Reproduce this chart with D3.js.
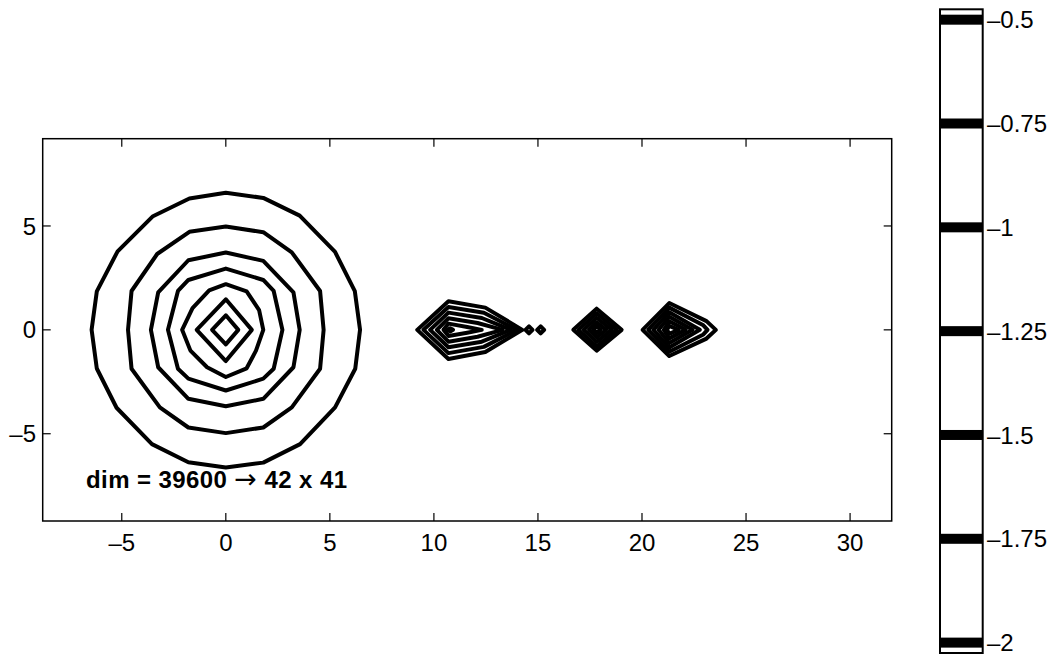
<!DOCTYPE html>
<html>
<head>
<meta charset="utf-8">
<script src="https://d3js.org/d3.v7.min.js"></script>
<style>
body { margin: 0; background: #fff; }
text { font-family: "Liberation Sans", Arial, sans-serif; fill: #000; }
</style>
</head>
<body>
<svg width="1056" height="655"></svg>
<script>
var svg = d3.select("svg");

// axis ticks and labels
var xTicks = [-5, 0, 5, 10, 15, 20, 25, 30];
var xTickLabels = ["\u20135", "0", "5", "10", "15", "20", "25", "30"];
var yTicks = [-5, 0, 5];
var yTickLabels = ["\u20135", "0", "5"];
var levels = [-0.5, -0.75, -1, -1.25, -1.5, -1.75, -2];
var levelLabels = ["\u20130.5", "\u20130.75", "\u20131", "\u20131.25", "\u20131.5", "\u20131.75", "\u20132"];
var note = ["dim = 39600 ", "\u2192", " 42 x 41"];

// contour lines (x, y in data units)
var ringContours = [
  [[0,6.6],[1.8,6.35],[3.55,5.5],[5.25,3.75],[6.2,1.86],[6.45,0],[6.22,-1.87],[5.25,-3.73],[3.57,-5.5],[1.8,-6.39],
   [0,-6.63],[-1.8,-6.37],[-3.55,-5.5],[-5.25,-3.75],[-6.2,-1.86],[-6.45,0],[-6.2,1.85],[-5.2,3.78],[-3.5,5.47],[-1.75,6.32]],
  [[0,4.97],[1.8,4.7],[3.17,3.73],[4.53,1.87],[4.7,0],[4.53,-1.87],[3.17,-3.73],[1.8,-4.7],
   [0,-4.97],[-1.8,-4.7],[-3.17,-3.73],[-4.53,-1.87],[-4.7,0],[-4.53,1.87],[-3.3,3.65],[-1.75,4.72]],
  [[0,3.72],[1.8,3.32],[3.25,1.8],[3.55,0],[3.25,-1.8],[1.8,-3.32],[0,-3.68],[-1.8,-3.32],[-3.25,-1.8],[-3.6,0],[-3.25,1.8],[-1.8,3.35]],
  [[0,2.95],[1.8,2.4],[2.3,1.87],[2.72,0],[2.3,-1.87],[1.8,-2.35],[0,-2.92],[-1.8,-2.35],[-2.3,-1.87],[-2.78,0],[-2.3,1.87],[-1.8,2.4]],
  [[0,2.2],[1.0,1.85],[1.6,0.95],[1.8,0],[1.45,-1.0],[1.0,-1.85],[0,-2.27],[-0.9,-1.8],[-1.7,-1.0],[-2.1,0],[-1.6,1.05],[-0.8,1.9]],
  [[0,1.47],[1.25,0],[0,-1.5],[-1.4,0]],
  [[0,0.7],[0.6,0],[0,-0.7],[-0.66,0]]
];

var kiteContours = [
  [[9.2,0],[10.7,1.38],[12.47,1.07],[14.25,0],[12.47,-1.07],[10.7,-1.4]],
  [[9.5,0],[10.7,1.1],[12.4,0.82],[14.0,0],[12.4,-0.82],[10.7,-1.12]],
  [[9.82,0],[10.7,0.83],[12.3,0.57],[13.7,0],[12.3,-0.57],[10.7,-0.84]],
  [[10.14,0],[10.7,0.56],[12.1,0.33],[13.3,0],[12.1,-0.33],[10.7,-0.57]],
  [[10.46,0],[10.7,0.3],[11.6,0.14],[12.3,0],[11.6,-0.14],[10.7,-0.3]],
  [[10.65,0],[10.78,0.08],[10.92,0],[10.78,-0.08]],
  [[14.4,0],[14.57,0.17],[14.74,0],[14.57,-0.17]],
  [[14.96,0],[15.13,0.17],[15.3,0],[15.13,-0.17]]
];

var diamondContours = [
  [[16.7,0],[17.82,1.02],[19.02,0],[17.82,-1.0]],
  [[16.95,0],[17.82,0.8],[18.78,0],[17.82,-0.8]],
  [[17.2,0],[17.82,0.58],[18.54,0],[17.82,-0.58]],
  [[17.45,0],[17.82,0.36],[18.28,0],[17.82,-0.36]],
  [[17.66,0],[17.82,0.16],[18.02,0],[17.82,-0.16]]
];

var wedgeContours = [
  [[20.03,0],[21.31,1.29],[23.1,0.42],[23.55,0],[23.1,-0.42],[21.31,-1.26]],
  [[20.3,0],[21.31,1.07],[22.95,0.22],[23.15,0],[22.95,-0.22],[21.31,-1.05]],
  [[20.55,0],[21.31,0.85],[22.78,0],[21.31,-0.85]],
  [[20.8,0],[21.31,0.63],[22.43,0],[21.31,-0.63]],
  [[21.05,0],[21.31,0.41],[22.1,0],[21.31,-0.41]],
  [[21.2,0],[21.31,0.19],[21.76,0],[21.31,-0.19]]
];

var plot = {left: 42.7, right: 891.7, top: 138.7, bottom: 521};

var x = d3.scaleLinear().domain([-8.8, 32]).range([plot.left, plot.right]);
var y = d3.scaleLinear().domain([-9.2, 9.2]).range([plot.bottom, plot.top]);
var c = d3.scaleLinear().domain([-2.025, -0.475]).range([653, 9.3]);

var line = d3.line()
    .x(function(d) { return x(d[0]); })
    .y(function(d) { return y(d[1]); })
    .curve(d3.curveLinearClosed);

var g = svg.append("g");

g.selectAll("path.contour")
  .data(ringContours.concat(kiteContours, diamondContours, wedgeContours))
  .enter().append("path")
    .attr("class", "contour")
    .attr("d", line)
    .attr("fill", "none")
    .attr("stroke", "#000")
    .attr("stroke-width", 4)
    .attr("stroke-linejoin", "round");

// box and ticks
svg.append("rect")
    .attr("x", plot.left).attr("y", plot.top)
    .attr("width", plot.right - plot.left).attr("height", plot.bottom - plot.top)
    .attr("fill", "none").attr("stroke", "#000").attr("stroke-width", 1.5);

var tickLen = 8;
var ticks = svg.append("g").attr("stroke", "#000").attr("stroke-width", 1.2);
xTicks.forEach(function(t) {
  ticks.append("line").attr("x1", x(t)).attr("x2", x(t)).attr("y1", plot.bottom).attr("y2", plot.bottom - tickLen);
  ticks.append("line").attr("x1", x(t)).attr("x2", x(t)).attr("y1", plot.top).attr("y2", plot.top + tickLen);
});
yTicks.forEach(function(t) {
  ticks.append("line").attr("x1", plot.left).attr("x2", plot.left + tickLen).attr("y1", y(t)).attr("y2", y(t));
  ticks.append("line").attr("x1", plot.right).attr("x2", plot.right - tickLen).attr("y1", y(t)).attr("y2", y(t));
});

svg.append("g").selectAll("text")
  .data(xTicks)
  .enter().append("text")
    .attr("x", function(d) { return x(d); })
    .attr("y", 551)
    .attr("text-anchor", "middle")
    .style("font-size", "24px")
    .text(function(d, i) { return xTickLabels[i]; });

svg.append("g").selectAll("text")
  .data(yTicks)
  .enter().append("text")
    .attr("x", 36)
    .attr("y", function(d) { return y(d) + 8.6; })
    .attr("text-anchor", "end")
    .style("font-size", "24px")
    .text(function(d, i) { return yTickLabels[i]; });

// annotation
var t = svg.append("text")
    .attr("x", 86)
    .attr("y", 488)
    .attr("textLength", 261)
    .attr("lengthAdjust", "spacing")
    .style("font-size", "24px")
    .style("font-weight", "bold");
t.append("tspan").text(note[0]);
t.append("tspan")
    .style("font-weight", "normal")
    .style("font-family", "'DejaVu Sans', sans-serif")
    .style("font-size", "27px")
    .text(note[1]);
t.append("tspan").text(note[2]);

// colorbar
var cb = {left: 940, right: 982.7};
svg.append("g").selectAll("rect")
  .data(levels)
  .enter().append("rect")
    .attr("x", cb.left)
    .attr("width", cb.right - cb.left)
    .attr("y", function(d) { return c(d) - 5; })
    .attr("height", 10)
    .attr("fill", "#000");

svg.append("rect")
    .attr("x", cb.left).attr("y", c.range()[1])
    .attr("width", cb.right - cb.left).attr("height", c.range()[0] - c.range()[1])
    .attr("fill", "none").attr("stroke", "#000").attr("stroke-width", 2);

svg.append("g").selectAll("text")
  .data(levels)
  .enter().append("text")
    .attr("x", 987)
    .attr("y", function(d) { return c(d) + 8.6; })
    .style("font-size", "24px")
    .text(function(d, i) { return levelLabels[i]; });
</script>
</body>
</html>
